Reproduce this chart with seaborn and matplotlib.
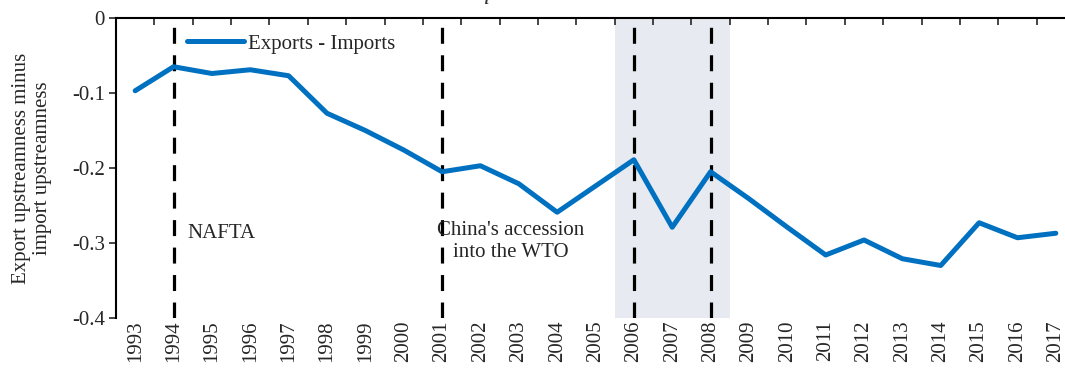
import numpy as np
import pandas as pd
import matplotlib
matplotlib.use("Agg")
import matplotlib.pyplot as plt
import seaborn as sns

# ----------------- data -----------------
years = [str(y) for y in range(1993, 2018)]
exports_minus_imports = [-0.097, -0.065, -0.074, -0.069, -0.077, -0.127, -0.150, -0.176,
                         -0.205, -0.197, -0.221, -0.259, -0.224, -0.189, -0.279, -0.205,
                         -0.241, -0.279, -0.316, -0.296, -0.321, -0.330, -0.273, -0.293,
                         -0.287]
event_years = ['1994', '2001', '2006', '2008']
shade_years = ('2006', '2008')
y_ticks = [0, -0.1, -0.2, -0.3, -0.4]

df = pd.DataFrame({'Year': years, 'Value': exports_minus_imports})

# ----------------- style -----------------
sns.set_style('white')
plt.rcParams['font.family'] = ['Liberation Serif', 'DejaVu Serif']
fs = 15

fig = plt.figure(figsize=(10.65, 3.69), dpi=100)
ax = fig.add_axes([116 / 1065, 1 - 318 / 369, 959 / 1065, 300 / 369])

# shaded crisis period
i0, i1 = years.index(shade_years[0]), years.index(shade_years[1])
ax.axvspan(i0 - 0.5, i1 + 0.5, color='#E7EAF0', zorder=0, lw=0)

# event lines
for ey in event_years:
    ax.axvline(years.index(ey), color='black', lw=2.3, linestyle=(0, (5.0, 3.6)), zorder=1)

sns.lineplot(data=df, x='Year', y='Value', ax=ax, color='#0070C0', lw=3.6,
             label='Exports - Imports', zorder=3, sort=False)

# axes
ax.set_xlim(-0.5, len(years) - 0.5)
ax.set_ylim(-0.4, 0)
ax.set_yticks(y_ticks)
ax.set_yticklabels(['0', '-0.1', '-0.2', '-0.3', '-0.4'], fontsize=fs)
ax.set_xticks(range(len(years)))
ax.set_xticklabels(years, rotation=90, fontsize=fs)
ax.set_xticks(np.arange(-0.5, len(years), 1), minor=True)
ax.tick_params(axis='x', which='major', bottom=False, top=False, labelbottom=True, pad=-2)
ax.tick_params(axis='x', which='minor', top=True, bottom=False, direction='in', length=5, width=1.2)
ax.tick_params(axis='y', left=True, direction='out', length=5, width=1.2, pad=3)
ax.set_xlabel('')
ax.set_ylabel('Export upstreamness minus\nimport upstreamness', fontsize=fs, labelpad=14,
              linespacing=1.2)

for side in ['right', 'bottom']:
    ax.spines[side].set_visible(False)
for side in ['left', 'top']:
    ax.spines[side].set_color('black')
    ax.spines[side].set_linewidth(1.5)

# annotations
ax.text(years.index('1994') + 0.35, -0.287, 'NAFTA', fontsize=fs, va='center', ha='left')
ax.text(years.index('2003') - 0.2, -0.298, "China's accession\ninto the WTO", fontsize=fs,
        va='center', ha='center', linespacing=1.2)

leg = ax.legend(loc='upper left', bbox_to_anchor=(0.059, 0.995), frameon=False, fontsize=fs,
                handlelength=2.75, handletextpad=0.15, borderaxespad=0.3)

# title (mostly cut off at top of the image)
fig.text(0.51, 1 + 1 / 369, 'Maquiladora Sector', fontsize=17, style='italic', ha='center',
         va='baseline', color='#333333')

fig.savefig('out.png', dpi=100)
